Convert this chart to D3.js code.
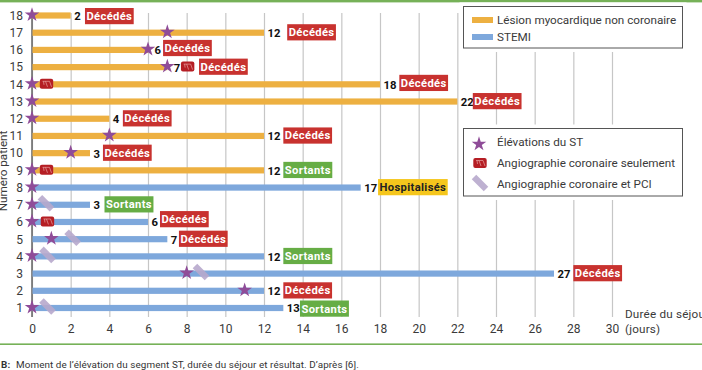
<!DOCTYPE html>
<html><head><meta charset="utf-8">
<script src="https://cdn.jsdelivr.net/npm/d3@7"></script>
<style>html,body{margin:0;padding:0;background:#fff;overflow:hidden}svg{display:block;font-family:Roboto,sans-serif}</style>
</head><body><svg id="c" width="702" height="370"></svg>
<script>
const patients    = [18,17,16,15,14,13,12,11,10,9,8,7,6,5,4,3,2,1];
const stay        = [2,12,6,7,18,22,4,12,3,12,17,3,6,7,12,27,12,13];
const groups      = ["L","L","L","L","L","L","L","L","L","L","S","S","S","S","S","S","S","S"];
const outcomes    = ["Décédés","Décédés","Décédés","Décédés","Décédés","Décédés","Décédés","Décédés","Décédés","Sortants","Hospitalisés","Sortants","Décédés","Décédés","Sortants","Décédés","Décédés","Sortants"];
const outcomeDay  = [2.74,13.2,6.78,8.64,19,22.8,4.7,13,3.67,13,17.9,3.75,6.62,7.6,13,28,13,13.86];
const stElevation = [0,7,6,7,0,0,0,4,2,0,0,0,0,1,0,8,11,0];
const angioPatients = [15,14,9,6];
const angioDays     = [8.05,0.75,0.75,0.8];
const pciPatients   = [7,5,4,3,1];
const pciDays       = [0.72,2.1,0.8,8.74,0.8];
const xTicks = d3.range(0,31,2);
const legendBars = ["Lésion myocardique non coronaire","STEMI"];
const legendMarks = ["Élévations du ST","Angiographie coronaire seulement","Angiographie coronaire et PCI"];

const groupColor = {L:"#edb041",S:"#7ea8dc"};
const outcomeColor = {"Décédés":"#c8322f","Sortants":"#66ad45","Hospitalisés":"#f5c61c"};
const outcomeText = {"Décédés":"#fff","Sortants":"#fff","Hospitalisés":"#222"};
const purple="#8f4c98", pciCol="#b7a8cc", angioCol="#b51e24", textCol="#3a3a3a", GREEN="#76b158";
const badgeNudge={18:1,16:-1.5,6:-2.4,1:1,14:-1};
const labelNudge={16:3,15:3};

const svg=d3.select("#c");
const x=d3.scaleLinear().domain([0,30]).range([32,612]);
const y=d3.scalePoint().domain(patients).range([15.5,308]);
const GT=13,GB=317;

svg.append("rect").attr("x",0).attr("y",0).attr("width",702).attr("height",2.4).attr("fill",GREEN);
svg.append("rect").attr("x",0).attr("y",343.4).attr("width",702).attr("height",1.6).attr("fill",GREEN);

// axes
const xa=svg.append("g").attr("transform",`translate(0,${GB})`)
  .call(d3.axisBottom(x).tickValues(xTicks).tickSizeInner(-(GB-GT)).tickSizeOuter(0).tickPadding(7));
xa.select(".domain").remove();
xa.selectAll("line").attr("stroke","#c6c6c6").attr("stroke-width",1.2);
xa.selectAll("text").attr("fill",textCol).style("font-size","12px").style("font-family","Roboto,sans-serif");
const ya=svg.append("g").attr("transform","translate(32,0)")
  .call(d3.axisLeft(y).tickSize(0).tickPadding(9));
ya.select(".domain").remove();
ya.selectAll("text").attr("fill",textCol).style("font-size","12px").style("font-family","Roboto,sans-serif");

svg.append("line").attr("x1",x(0)).attr("x2",x(0)).attr("y1",GT).attr("y2",GB).attr("stroke","#5c5c5c").attr("stroke-width",1.4);

// bars
svg.append("g").selectAll("rect").data(patients).join("rect")
  .attr("x",x(0)+.5).attr("y",(d)=>y(d)-3.1).attr("height",6.2)
  .attr("width",(d,i)=>x(stay[i])-x(0)-.5)
  .attr("fill",(d,i)=>groupColor[groups[i]]);

// value labels
svg.append("g").selectAll("text").data(patients).join("text")
  .attr("x",(d,i)=>x(stay[i])+3.5+(labelNudge[d]||0)).attr("y",d=>y(d)+4.4)
  .attr("fill","#111").attr("font-weight",700).attr("font-size",11.3)
  .text((d,i)=>stay[i]);

// outcome badges
const bg=svg.append("g").selectAll("g").data(patients).join("g")
  .attr("transform",(d,i)=>`translate(${x(outcomeDay[i])},${y(d)-.5+(badgeNudge[d]||0)})`);
bg.append("rect").attr("y",-8).attr("height",16.2)
  .attr("fill",(d,i)=>outcomeColor[outcomes[i]]);
bg.append("text").attr("x",1.5).attr("y",4).attr("font-size",11.2).attr("font-weight",700)
  .attr("letter-spacing",.35)
  .attr("fill",(d,i)=>outcomeText[outcomes[i]]).text((d,i)=>outcomes[i]);
bg.each(function(){const g=d3.select(this);g.select("rect").attr("width",g.select("text").node().getComputedTextLength()+3)});

// markers
function pci(sel){sel.append("rect").attr("x",-8.5).attr("y",-3.2).attr("width",17).attr("height",6.4)
  .attr("transform","rotate(45)").attr("fill",pciCol).attr("opacity",.9);}
function angio(sel){
  sel.append("rect").attr("x",-6.7).attr("y",-5).attr("width",13.4).attr("height",10).attr("rx",2).attr("fill",angioCol);
  sel.append("path").attr("d","M-4-2.5H3L5 3M-1-2.5L1 3M-3-2.5L-2.5 1").attr("fill","none").attr("stroke","#e8a0a0").attr("stroke-width",.7);
}
const starPath=d3.symbol().type(d3.symbolStar).size(66)();
function star(sel){sel.append("path").attr("d",starPath).attr("fill",purple);}

pciPatients.forEach((p,i)=>svg.append("g").attr("transform",`translate(${x(pciDays[i])},${y(p)-1.5})`).call(pci));
angioPatients.forEach((p,i)=>svg.append("g").attr("transform",`translate(${x(angioDays[i])},${y(p)-.5})`).call(angio));
patients.forEach((p,i)=>svg.append("g").attr("transform",`translate(${x(stElevation[i])},${y(p)-.7})`).call(star));

// legends
function box(x0,y0,w,h){
  svg.append("rect").attr("x",x0-4).attr("y",y0-4).attr("width",w+8).attr("height",h+8).attr("fill","#fff");
  svg.append("rect").attr("x",x0).attr("y",y0).attr("width",w).attr("height",h).attr("fill","#fff").attr("stroke","#555").attr("stroke-width",1);
}
box(463.5,6.5,219,41.5);
box(463.5,128.5,219,67.5);
const LEG=11.7;
legendBars.forEach((t,i)=>{
  const yy=[20,37][i];
  svg.append("rect").attr("x",472).attr("y",yy-3).attr("width",21).attr("height",6).attr("fill",[groupColor.L,groupColor.S][i]);
  svg.append("text").attr("x",497).attr("y",yy+4).attr("font-size",LEG).attr("fill",textCol).text(t);
});
legendMarks.forEach((t,i)=>{
  const yy=[142,163,184][i];
  svg.append("text").attr("x",497).attr("y",yy+4).attr("font-size",LEG).attr("fill",textCol).text(t);
});
svg.append("g").attr("transform","translate(479,144)").call(star);
svg.append("g").attr("transform","translate(480,163)").call(angio);
svg.append("g").attr("transform","translate(480,183)").call(pci);

// axis titles
svg.append("text").attr("transform","translate(7,171) rotate(-90)").attr("text-anchor","middle").attr("font-size",11.7).attr("fill",textCol).text("Numéro patient");
svg.append("text").attr("x",625).attr("y",318).attr("font-size",11.7).attr("fill",textCol).attr("letter-spacing",.2).text("Durée du séjour");
svg.append("text").attr("x",625).attr("y",333).attr("font-size",11.7).attr("fill",textCol).attr("letter-spacing",.2).text("(jours)");

// caption
const cap=svg.append("text").attr("y",368).attr("font-size",9.85).attr("fill","#333").attr("letter-spacing",.1);
cap.append("tspan").attr("x",1).attr("font-weight",700).text("B:");
cap.append("tspan").attr("x",16).text("Moment de l’élévation du segment ST, durée du séjour et résultat. D’après [6].");
</script></body></html>
